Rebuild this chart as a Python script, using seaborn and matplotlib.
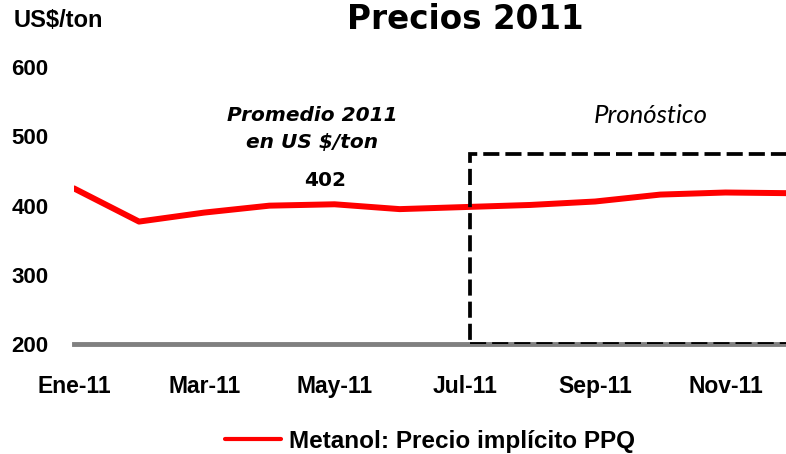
import pandas as pd
import seaborn as sns
import matplotlib.pyplot as plt
from matplotlib.patches import Rectangle

# data
meses = ['Ene-11', 'Feb-11', 'Mar-11', 'Abr-11', 'May-11', 'Jun-11',
         'Jul-11', 'Ago-11', 'Sep-11', 'Oct-11', 'Nov-11', 'Dic-11']
precio = [425, 377, 390, 400, 402, 395, 398, 401, 406, 416, 419, 418]
tick_meses = ['Ene-11', 'Mar-11', 'May-11', 'Jul-11', 'Sep-11', 'Nov-11']
y_ticks = [200, 300, 400, 500, 600]
promedio = 402
inicio_pronostico = 'Jul-11'
techo_pronostico = 475

df = pd.DataFrame({'mes': range(len(meses)), 'precio': precio})

sns.set_style('white')
plt.rcParams['font.family'] = ['Liberation Sans', 'DejaVu Sans']
plt.rcParams['text.color'] = 'black'
plt.rcParams['xtick.color'] = 'black'
plt.rcParams['ytick.color'] = 'black'

fig = plt.figure(figsize=(7.86, 4.54), dpi=100)
ax = fig.add_axes([0.094, 0.242, 0.906, 0.61])

sns.lineplot(data=df, x='mes', y='precio', color='#ff0000', linewidth=4.3,
             ax=ax, label='Metanol: Precio implícito PPQ')

ax.set_xlim(0, 10.93)
ax.set_ylim(200, 600)
ax.set_xticks([meses.index(m) for m in tick_meses])
ax.set_xticklabels(tick_meses, fontsize=16.5, fontweight='bold')
ax.set_yticks(y_ticks)
ax.set_yticklabels([str(v) for v in y_ticks], fontsize=16, fontweight='bold')
ax.tick_params(axis='x', length=0, pad=22)
ax.tick_params(axis='y', length=0, pad=45)
for lbl in ax.get_yticklabels():
    lbl.set_horizontalalignment('left')
ax.set_xlabel('')
ax.set_ylabel('')

for side in ['top', 'right', 'left']:
    ax.spines[side].set_visible(False)
ax.spines['bottom'].set_color('#808080')
ax.spines['bottom'].set_linewidth(3.5)

# forecast box (drawn a hair right of the Jul tick, as in the original)
x0 = meses.index(inicio_pronostico) + 0.08
box = Rectangle((x0, 200), 12, techo_pronostico - 200, fill=False,
                edgecolor='black', linestyle=(0, (4.3, 1.6)), linewidth=2.7,
                clip_on=True, zorder=3)
ax.add_patch(box)

ax.text(8.86, 530, 'Pronóstico', fontsize=18.5, style='italic',
        family=['Lato', 'DejaVu Sans'], ha='center', va='center')
ax.text(3.66, 511, 'Promedio 2011\nen US $/ton', fontsize=14.5, style='italic',
        fontweight='bold', family=['DejaVu Sans'], ha='center', va='center',
        linespacing=1.5)
ax.text(3.86, 437, str(promedio), fontsize=14.5, fontweight='bold',
        family=['DejaVu Sans'], ha='center', va='center')

fig.text(0.592, 0.958, 'Precios 2011', fontsize=23.5, fontweight='bold',
         family=['DejaVu Sans'], ha='center', va='center')
fig.text(0.017, 0.955, 'US$/ton', fontsize=17, fontweight='bold',
         ha='left', va='center')

leg = ax.legend(loc='center', bbox_to_anchor=(0.50, -0.35), frameon=False,
                prop={'weight': 'bold', 'size': 17.5},
                handlelength=2.3, handletextpad=0.3)
for h in leg.get_lines():
    h.set_linewidth(3)

plt.savefig('out.png', dpi=100)
